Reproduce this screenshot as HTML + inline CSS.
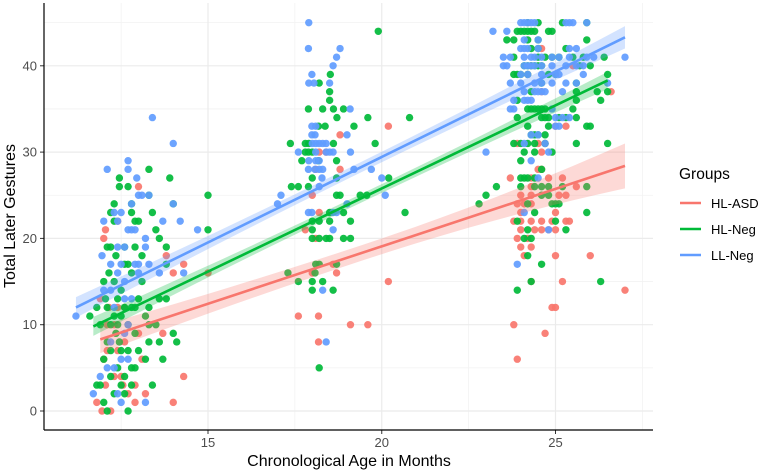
<!DOCTYPE html>
<html><head><meta charset="utf-8">
<style>
html,body{margin:0;padding:0;background:#fff;}
svg{display:block;font-family:"Liberation Sans",Arial,sans-serif;}
</style></head>
<body>
<svg id="chart" width="761" height="472" viewBox="0 0 761 472">
<g id="grid"></g>
<g id="points"></g>
<g id="fits"></g>
<g id="axes"></g>
<text x="15" y="216" transform="rotate(-90 15 216)" text-anchor="middle" font-size="16" fill="#000">Total Later Gestures</text>
<text x="349" y="466" text-anchor="middle" font-size="16" fill="#000">Chronological Age in Months</text>
<g>
<text x="679" y="179" font-size="15.5" fill="#000">Groups</text>
<g><line x1="680" y1="203" x2="701" y2="203" stroke="#F8766D" stroke-width="2.5"/><text x="711" y="208" font-size="13">HL-ASD</text></g>
<g><line x1="680" y1="229" x2="701" y2="229" stroke="#00BA38" stroke-width="2.5"/><text x="711" y="234" font-size="13">HL-Neg</text></g>
<g><line x1="680" y1="255" x2="701" y2="255" stroke="#619CFF" stroke-width="2.5"/><text x="711" y="260" font-size="13">LL-Neg</text></g>
</g>
</svg>
<script>
const xTicks=[15,20,25];
const xMinor=[12.5,17.5,22.5,27.5];
const yTicks=[0,10,20,30,40];
const yMinor=[5,15,25,35,45];
const groupNames=["HL-ASD","HL-Neg","LL-Neg"];
const groupColors=["#F8766D","#00BA38","#619CFF"];
// fit lines: [xStart,yStart,xEnd,yEnd]
const fitASD=[11.9,8.3,27.0,28.4];
const fitNeg=[11.7,9.8,26.5,38.3];
const fitLL=[11.2,12.0,27.0,43.3];
// band half-width [at start, at middle, at end]
const bandASD=[1.6,0.9,2.6];
const bandNeg=[1.1,0.5,1.0];
const bandLL=[1.2,0.6,1.3];
const ptsASD=[[11.8,1],[11.9,13],[11.95,0],[12.05,21],[12.0,20],[12.1,7],[12.2,0],[12.3,10],[12.4,22],[12.4,7],[12.5,4],[12.55,3],[12.6,12],[12.7,2],[12.9,1],[12.9,3],[13.0,26],[13.1,6],[13.2,2],[13.0,9],[12.0,6],[12.1,10],[12.15,12],[12.4,12],[13.8,18],[14.0,16],[14.3,17],[14.3,4],[14.0,1],[13.7,9],[15.0,16],[12.6,8],[12.3,4],[12.05,3],
[20.19,33],[18.8,32],[18.2,30],[18.4,30],[18.8,28],[18.1,28],[18.0,25],[18.2,23],[17.8,21],[18.1,20],[18.0,16],[18.7,16],[20.19,15],[17.6,11],[18.18,11],[19.1,10],[19.6,10],[18.18,8],[18.6,17],
[24.6,42],[24.3,40],[25.5,40],[24.2,39],[24.6,37],[26.6,37],[25.0,33],[25.3,33],[23.9,31],[24.5,31],[24.7,31],[24.6,30],[24.6,28],[24.5,28],[23.7,27],[24.3,27],[24.8,27],[25.2,27],[24.3,26],[25.6,26],[24.0,25],[24.3,25],[25.1,25],[25.3,25],[23.9,24],[24.1,24],[24.3,24],[24.0,23],[25.0,23],[23.8,22],[24.0,22],[24.3,22],[24.6,22],[24.9,22],[25.3,22],[25.4,22],[24.0,21],[24.4,21],[24.6,21],[24.8,21],[25.0,21],[23.9,20],[24.2,20],[24.0,19],[24.3,19],[24.1,18],[25.0,18],[26.0,18],[24.3,15],[25.2,15],[27.0,14],[24.9,12],[25.0,12],[23.8,10],[24.7,9],[23.9,6]];
const ptsNeg=[[11.6,11],[11.8,12],[11.9,10],[12.0,15],[12.1,19],[12.2,23],[12.3,24],[12.2,19],[12.3,22],[12.35,18],[12.45,27],[12.45,26],[12.7,26],[12.6,17],[12.8,24],[12.8,23],[12.9,22],[13.0,22],[13.3,28],[13.3,25],[13.4,23],[13.5,21],[13.6,20],[13.8,19],[13.9,27],[14.0,24],[13.8,17],[13.8,13],[13.6,13],[14.0,9],[14.1,8],[13.7,6],[13.6,8],[13.3,8],[13.4,3],[13.2,6],[13.3,12],[13.1,15],[13.0,13],[12.9,12],[12.8,12],[12.7,10],[12.6,12],[12.5,14],[12.4,10],[12.3,11],[12.2,10],[12.1,8],[12.0,6],[11.9,3],[11.8,3],[12.0,1],[12.1,0],[12.2,4],[12.3,2],[12.5,3],[12.6,2],[12.7,0],[12.8,5],[12.9,5],[12.5,7],[12.4,5],[12.2,7],[12.7,7],[13.0,7],[12.3,15],[12.6,19],[12.8,16],[12.9,9],[13.2,11],[13.5,10],[15.0,25],[15.0,21],[12.1,12],[12.35,9],[12.5,11],[12.45,8],[12.9,19],[12.6,4],[12.15,16],[12.05,13],[12.7,17],[13.1,18],[13.3,10],[12.4,13],[12.8,3],
[18.52,39],[18.2,38],[18.5,37],[18.5,36],[17.89,35],[18.3,35],[18.61,35],[18.9,35],[18.71,34],[19.6,34],[20.8,34],[18.18,33],[18.37,33],[19.2,33],[17.37,31],[17.8,31],[17.9,31],[18.61,31],[19.81,31],[17.8,30],[17.89,30],[18.0,30],[17.7,29],[18.18,29],[18.7,29],[18.0,27],[18.7,27],[17.4,26],[17.6,26],[17.89,26],[18.7,25],[18.8,25],[19.38,25],[19.57,25],[20.2,27],[20.67,23],[18.5,23],[18.9,23],[18.0,22],[18.2,22],[18.5,22],[19.1,22],[18.0,21],[18.0,20],[18.2,20],[18.4,20],[18.5,20],[18.9,20],[19.1,20],[18.1,17],[18.7,17],[17.3,16],[17.6,15],[18.0,15],[18.3,15],[18.0,14],[18.6,14],[18.08,16],[18.2,17],[18.2,5],[19.9,44],
[24.2,45],[24.5,45],[25.2,45],[25.9,45],[23.9,44],[24.0,44],[24.1,44],[24.2,44],[24.3,44],[24.4,44],[24.8,44],[24.9,44],[23.6,43],[23.8,43],[24.2,43],[24.5,43],[25.9,43],[24.3,42],[24.5,42],[25.3,42],[23.8,41],[24.5,41],[24.7,41],[24.9,41],[25.1,41],[25.5,41],[25.8,41],[26.4,41],[24.1,40],[24.2,40],[24.3,40],[24.4,40],[24.5,40],[24.6,40],[25.7,40],[26.0,40],[23.8,39],[23.9,39],[24.0,39],[24.2,39],[24.8,39],[25.0,39],[26.5,39],[24.6,38],[25.6,38],[24.3,37],[25.6,37],[26.2,37],[26.5,37],[23.9,36],[25.6,36],[26.3,36],[24.2,35],[24.3,35],[24.4,35],[24.5,35],[24.6,35],[24.7,35],[25.5,35],[23.9,34],[24.6,34],[24.7,34],[24.8,34],[25.1,34],[25.3,34],[25.6,34],[24.2,33],[24.8,33],[25.9,33],[26.0,33],[24.3,32],[24.4,32],[24.5,32],[24.7,32],[23.8,31],[24.0,31],[24.2,31],[24.4,31],[24.7,31],[25.6,31],[26.5,31],[24.1,30],[24.4,30],[24.9,30],[24.0,29],[24.6,28],[24.0,27],[24.1,27],[24.2,27],[24.4,27],[24.0,26],[24.4,26],[24.6,26],[24.8,26],[25.2,26],[25.9,26],[23.3,26],[23.0,25],[24.6,25],[24.8,25],[22.8,24],[24.2,24],[24.9,24],[25.0,24],[25.1,24],[24.4,23],[25.9,23],[23.9,22],[25.0,22],[24.2,21],[25.3,21],[24.1,20],[24.3,20],[24.2,18],[24.6,17],[24.3,15],[26.3,15],[23.9,14]];
const ptsLL=[[11.2,11],[11.7,2],[11.9,4],[12.1,28],[12.0,22],[11.95,18],[12.0,14],[12.2,14],[12.3,23],[12.4,22],[12.5,23],[12.4,16],[12.6,19],[12.2,8],[12.3,5],[12.5,17],[12.7,21],[12.8,21],[12.9,21],[12.7,29],[12.7,28],[12.8,24],[12.9,17],[13.0,25],[12.95,27],[13.1,25],[13.0,16],[12.8,13],[12.7,10],[12.5,6],[12.4,2],[12.7,6],[13.0,17],[13.3,25],[13.2,20],[13.4,34],[13.7,22],[13.6,16],[14.0,31],[13.2,19],[14.2,22],[14.0,24],[14.7,21],[14.3,16],[13.3,17],[12.6,13],[12.5,1],[13.2,1],[12.6,15],[12.4,19],[12.3,12],[12.1,5],[12.2,17],[12.6,9],
[17.9,45],[17.89,42],[18.8,42],[18.7,41],[18.6,40],[17.99,39],[17.9,38],[18.05,38],[18.5,38],[19.09,35],[17.99,33],[18.1,33],[17.99,32],[18.08,32],[18.0,31],[18.1,31],[18.2,31],[18.3,31],[18.4,31],[19.0,32],[17.6,30],[18.1,30],[18.4,30],[18.5,30],[18.6,30],[19.1,30],[17.9,29],[18.1,29],[18.2,29],[17.89,28],[18.08,28],[18.2,28],[18.3,28],[18.28,27],[19.2,28],[19.7,28],[20.0,27],[18.2,26],[17.1,25],[17.89,23],[17.99,23],[18.6,23],[18.7,23],[18.6,21],[18.3,14],[18.4,8],[20.1,25],[17.0,24],[19.0,24],
[24.0,45],[24.1,45],[24.2,45],[24.3,45],[24.4,45],[25.3,45],[25.4,45],[25.5,45],[25.9,45],[23.2,44],[23.6,44],[24.1,43],[24.5,43],[24.0,42],[24.1,42],[24.2,42],[24.5,42],[25.4,42],[25.6,42],[23.5,41],[23.7,41],[24.1,41],[24.3,41],[24.4,41],[24.6,41],[24.9,41],[25.1,41],[25.4,41],[25.9,41],[26.1,41],[27.0,41],[23.5,40],[23.6,40],[24.1,40],[24.2,40],[24.3,40],[24.4,40],[24.6,40],[24.9,40],[25.3,40],[25.6,40],[25.8,40],[24.0,39],[24.2,39],[24.6,39],[25.0,39],[25.1,39],[25.8,39],[23.7,38],[24.0,38],[24.4,38],[24.6,38],[24.9,38],[25.3,38],[25.6,38],[26.5,38],[24.1,37],[24.4,37],[24.5,37],[24.6,37],[24.7,37],[25.2,37],[23.8,36],[24.1,36],[24.2,36],[24.3,36],[23.7,35],[23.8,35],[24.9,35],[25.0,34],[25.2,34],[25.4,34],[25.0,33],[25.1,33],[24.3,32],[24.5,32],[24.1,31],[24.7,31],[24.8,30],[23.0,30],[24.3,29],[24.5,27],[24.1,23],[24.8,21],[23.9,17]];

const NS="http://www.w3.org/2000/svg";
const L=44,R=653,T=3,B=430;
function sx(v){return 208+(v-15)*34.75;}
function sy(v){return 411-v*8.63;}
function mk(tag,attrs,parent){const e=document.createElementNS(NS,tag);for(const k in attrs)e.setAttribute(k,attrs[k]);parent.appendChild(e);return e;}
const grid=document.getElementById('grid'),pts=document.getElementById('points'),fits=document.getElementById('fits'),axes=document.getElementById('axes');
xMinor.forEach(v=>{const e=mk('line',{x1:sx(v),x2:sx(v),y1:T,y2:B,stroke:'#f2f2f2','stroke-width':0.8},grid);

});
yMinor.forEach(v=>{const e=mk('line',{x1:L,x2:R,y1:sy(v),y2:sy(v),stroke:'#f2f2f2','stroke-width':0.8},grid);

});
xTicks.forEach(v=>{const e=mk('line',{x1:sx(v),x2:sx(v),y1:T,y2:B,stroke:'#ebebeb','stroke-width':1.2},grid);


const t=mk('line',{x1:sx(v),x2:sx(v),y1:B,y2:B+4,stroke:'#333','stroke-width':1},axes);


const l=mk('text',{x:sx(v),y:447,'text-anchor':'middle','font-size':13,fill:'#4d4d4d'},axes);l.textContent=v;

});
yTicks.forEach(v=>{const e=mk('line',{x1:L,x2:R,y1:sy(v),y2:sy(v),stroke:'#ebebeb','stroke-width':1.2},grid);


const t=mk('line',{x1:L-4,x2:L,y1:sy(v),y2:sy(v),stroke:'#333','stroke-width':1},axes);


const l=mk('text',{x:L-7,y:sy(v)+4.5,'text-anchor':'end','font-size':13,fill:'#4d4d4d'},axes);l.textContent=v;

});
const ax1=mk('line',{x1:L,x2:L,y1:T,y2:B,stroke:'#000','stroke-width':1.2},axes);


const ax2=mk('line',{x1:L,x2:R,y1:B,y2:B,stroke:'#000','stroke-width':1.2},axes);



const series=[ptsASD,ptsNeg,ptsLL];
series.forEach((arr,gi)=>{arr.forEach(p=>{const c=mk('circle',{cx:sx(p[0]),cy:sy(p[1]),r:3.7,fill:groupColors[gi],'fill-opacity':0.92},pts);

});});

const fitList=[[fitASD,bandASD],[fitNeg,bandNeg],[fitLL,bandLL]];
fitList.forEach((f,gi)=>{const [x0,y0,x1,y1]=f[0],bw=f[1];const n=20;const up=[],dn=[];
for(let i=0;i<=n;i++){const t=i/n;const x=x0+(x1-x0)*t,y=y0+(y1-y0)*t;const u=2*t-1;const w=bw[1]+(u<0?(bw[0]-bw[1]):(bw[2]-bw[1]))*u*u;
up.push(sx(x)+','+sy(y+w));dn.unshift(sx(x)+','+sy(y-w));}
const b=mk('polygon',{points:up.concat(dn).join(' '),fill:groupColors[gi],'fill-opacity':0.28},fits);


const l=mk('line',{x1:sx(x0),y1:sy(y0),x2:sx(x1),y2:sy(y1),stroke:groupColors[gi],'stroke-width':2.6},fits);

});
</script>
</body></html>
